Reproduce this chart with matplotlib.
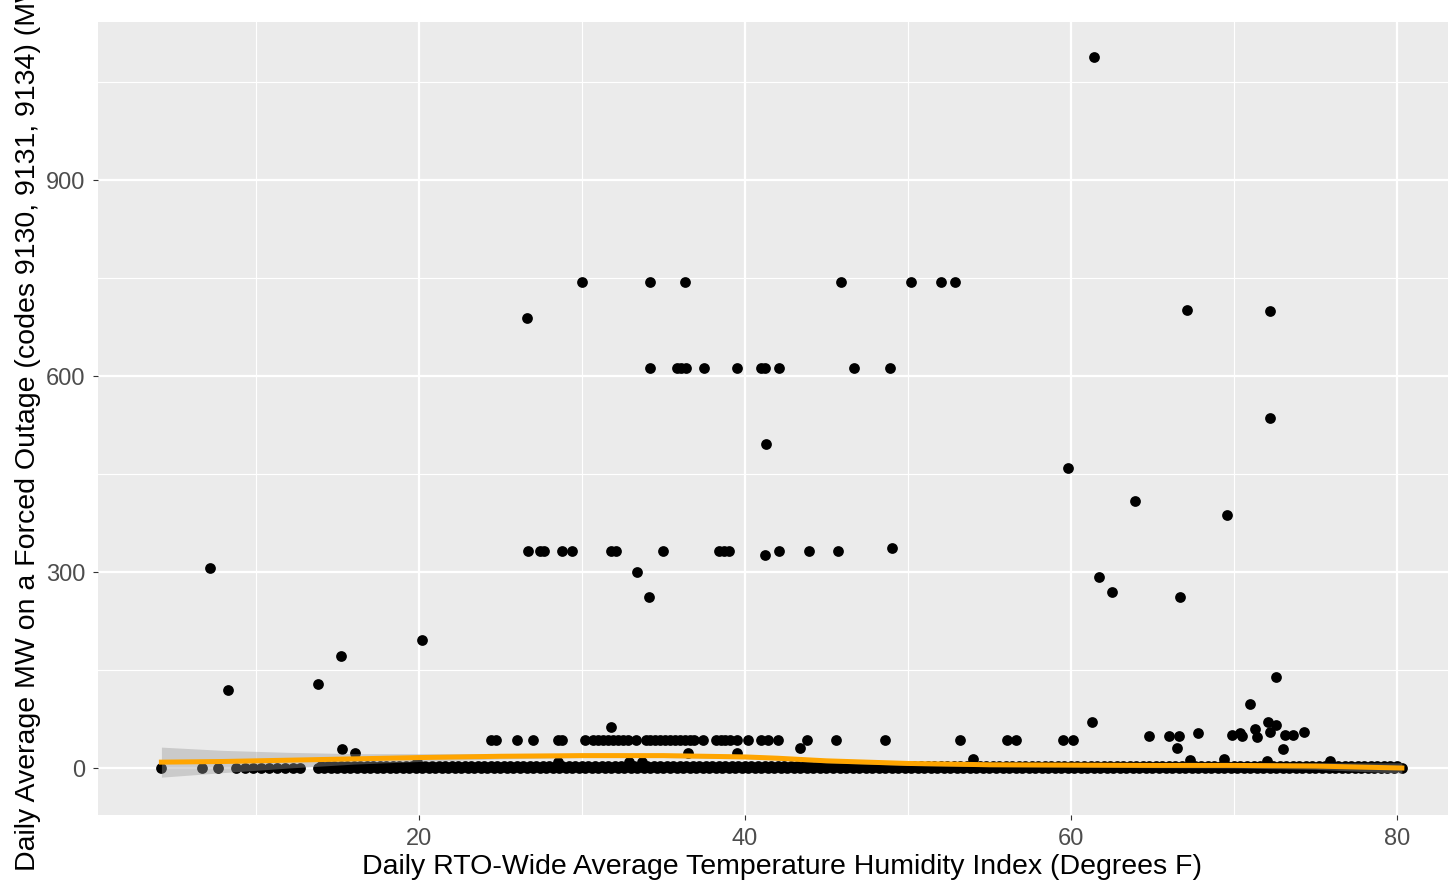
import matplotlib
matplotlib.use("Agg")
import matplotlib.pyplot as plt

# points sitting on zero MW -- dense band along the bottom
zero_thi = [4.2, 6.7, 7.7, 8.8, 9.3, 9.8, 10.3, 10.8, 11.3, 11.8, 12.3, 12.7,
            13.8, 14.2, 14.6, 15.0, 15.4, 15.8, 16.2, 16.6, 17.0, 17.4, 17.8, 18.2,
            18.6, 19.0, 19.4, 19.8, 20.2, 20.6, 21.0, 21.4, 21.8, 22.2, 22.6, 23.0,
            23.4, 23.8, 24.2, 24.6, 25.0, 25.4, 25.8, 26.2, 26.6, 27.0, 27.4, 27.8,
            28.2, 28.6, 29.0, 29.4, 29.8, 30.2, 30.6, 31.0, 31.4, 31.8, 32.2, 32.6,
            33.0, 33.4, 33.8, 34.2, 34.6, 35.0, 35.4, 35.8, 36.2, 36.6, 37.0, 37.4,
            37.8, 38.2, 38.6, 39.0, 39.4, 39.8, 40.2, 40.6, 41.0, 41.4, 41.8, 42.2,
            42.6, 43.0, 43.4, 43.8, 44.2, 44.6, 45.0, 45.4, 45.8, 46.2, 46.6, 47.0,
            47.4, 47.8, 48.2, 48.6, 49.0, 49.4, 49.8, 50.2, 50.6, 51.0, 51.4, 51.8,
            52.2, 52.6, 53.0, 53.4, 53.8, 54.2, 54.6, 55.0, 55.4, 55.8, 56.2, 56.6,
            57.0, 57.4, 57.8, 58.2, 58.6, 59.0, 59.4, 59.8, 60.2, 60.6, 61.0, 61.4,
            61.8, 62.2, 62.6, 63.0, 63.4, 63.8, 64.2, 64.6, 65.0, 65.4, 65.8, 66.2,
            66.6, 67.0, 67.4, 67.8, 68.2, 68.6, 69.0, 69.4, 69.8, 70.2, 70.6, 71.0,
            71.4, 71.8, 72.2, 72.6, 73.0, 73.4, 73.8, 74.2, 74.6, 75.0, 75.4, 75.8,
            76.2, 76.6, 77.0, 77.4, 77.8, 78.2, 78.6, 79.0, 79.4, 79.8, 80.3]

# tiny outages (a few MW) packed in between the zero points
trace_thi = [14.0, 14.4, 14.8, 15.2, 15.6, 16.0, 16.4, 16.8, 17.2, 17.6, 18.0, 18.4,
             18.8, 19.2, 19.6, 20.0, 20.4, 20.8, 21.2, 21.6, 22.0, 22.4, 22.8, 23.2,
             23.6, 24.0, 24.4, 24.8, 25.2, 25.6, 26.0, 26.4, 26.8, 27.2, 27.6, 28.0,
             28.4, 28.8, 29.2, 29.6, 30.0, 30.4, 30.8, 31.2, 31.6, 32.0, 32.4, 32.8,
             33.2, 33.6, 34.0, 34.4, 34.8, 35.2, 35.6, 36.0, 36.4, 36.8, 37.2, 37.6,
             38.0, 38.4, 38.8, 39.2, 39.6, 40.0, 40.4, 40.8, 41.2, 41.6, 42.0, 42.4,
             42.8, 43.2, 43.6, 44.0, 44.4, 44.8, 45.2, 45.6, 46.0, 46.4, 46.8, 47.2,
             47.6, 48.0, 48.4, 48.8, 49.2, 49.6, 50.0, 50.4, 50.8, 51.2, 51.6, 52.0,
             52.4, 52.8, 53.2, 53.6, 54.0, 54.4, 54.8, 55.2, 55.6, 56.0, 56.4, 56.8,
             57.2, 57.6, 58.0, 58.4, 58.8, 59.2, 59.6, 60.0, 60.4, 60.8, 61.2, 61.6,
             62.0, 62.4, 62.8, 63.2, 63.6, 64.0, 64.4, 64.8, 65.2, 65.6, 66.0, 66.4,
             66.8, 67.2, 67.6, 68.0, 68.4, 68.8, 69.2, 69.6, 70.0, 70.4, 70.8, 71.2,
             71.6, 72.0, 72.4, 72.8, 73.2, 73.6, 74.0, 74.4, 74.8, 75.2, 75.6, 76.0,
             76.4, 76.8, 77.2, 77.6, 78.0, 78.4, 78.8, 79.2, 79.6, 80.0]

# the ~43 MW row between 24 and 60 F
row43_thi = [24.4, 24.7, 26.0, 27.0, 28.5, 28.8, 30.2, 30.7, 31.0, 31.3, 31.6, 31.9,
             32.2, 32.5, 32.8, 33.3, 33.9, 34.2, 34.5, 34.8, 35.1, 35.4, 35.7, 36.0,
             36.3, 36.6, 36.9, 37.4, 38.2, 38.5, 38.8, 39.1, 39.5, 40.2, 41.0, 41.4,
             42.0, 43.8, 45.6, 48.6, 53.2, 56.1, 56.6, 59.5, 60.1]

# everything else
other_thi = [61.4,
             30.0, 34.2, 36.3, 45.9, 50.2, 52.0, 52.9,
             67.1, 72.2, 26.6,
             34.2, 35.8, 36.1, 36.4, 37.5, 39.5, 41.0, 41.2, 42.1, 46.7, 48.9,
             72.2, 41.3, 59.8, 63.9, 69.6,
             26.7, 27.4, 27.7, 28.8, 29.4, 31.8, 32.1, 35.0, 38.4, 38.7, 39.0,
             42.1, 43.9, 45.7, 49.0, 41.2,
             33.4, 61.7, 62.5, 34.1, 66.7,
             7.2, 20.2, 15.2, 13.8, 8.3,
             72.6, 71.0, 31.8, 61.3,
             15.3, 16.1, 19.9, 28.5, 32.9, 33.7, 36.5, 39.5, 54.0, 43.4,
             64.8, 66.0, 66.6, 66.5, 67.8, 69.9, 70.4, 70.5, 71.3, 71.4, 72.1,
             72.6, 72.2, 73.0, 73.1, 73.6, 74.3,
             67.3, 69.4, 72.0, 75.9]
other_mw = [1088,
            744, 744, 744, 744, 744, 744, 744,
            701, 700, 689,
            612, 612, 612, 612, 612, 612, 612, 612, 612, 612, 612,
            536, 496, 459, 409, 387,
            332, 332, 332, 332, 332, 332, 332, 332, 332, 332, 332,
            332, 332, 332, 337, 326,
            300, 292, 269, 262, 262,
            306, 196, 171, 129, 119,
            139, 98, 63, 70,
            29, 23, 9, 9, 9, 9, 23, 23, 14, 31,
            49, 49, 49, 31, 54, 50, 54, 49, 60, 47, 70,
            66, 55, 29, 50, 50, 55,
            12, 14, 11, 11]

# loess fit + confidence band
smooth_thi = [4.2, 8, 12, 16, 20, 25, 30, 35, 40, 42, 45, 50, 55, 60, 65, 70, 75, 80.3]
smooth_mw = [9, 10, 12, 14, 16, 18, 19, 19, 17, 15, 11, 7, 5, 4.5, 4, 4, 3, 0]
smooth_lo = [-14, -7, 0, 6, 10, 14, 16, 16, 14, 12, 8, 4, 2, 1.5, 0.5, 0, -2, -8]
smooth_hi = [32, 27, 24, 22, 22, 22, 22, 22, 20, 18, 14, 10, 8, 7.5, 7.5, 8, 8, 8]

plt.rcParams["font.family"] = ["Liberation Sans", "DejaVu Sans"]

fig = plt.figure(figsize=(14.48, 8.83), dpi=100)
ax = fig.add_axes([98 / 1448, 1 - 815 / 883, 1 - 98 / 1448, (815 - 22) / 883])
ax.set_facecolor("#EBEBEB")
for s in ax.spines.values():
    s.set_visible(False)

ax.set_xlim(0.31, 83.13)
ax.set_ylim(-71.9, 1141.9)
ax.set_xticks([20, 40, 60, 80])
ax.set_xticks([10, 30, 50, 70], minor=True)
ax.set_yticks([0, 300, 600, 900])
ax.set_yticks([150, 450, 750, 1050], minor=True)
ax.grid(which="major", color="white", lw=1.6)
ax.grid(which="minor", color="white", lw=0.8)
ax.set_axisbelow(True)
ax.tick_params(which="major", length=3.3, width=0.8, color="#333333",
               labelcolor="#4d4d4d", labelsize=17, pad=6)
ax.tick_params(which="minor", length=0)

dot = dict(s=60, c="black", lw=0, zorder=2)
ax.scatter(zero_thi, [0] * len(zero_thi), **dot)
ax.scatter(trace_thi, [3] * len(trace_thi), **dot)
ax.scatter(row43_thi, [43] * len(row43_thi), **dot)
ax.scatter(other_thi, other_mw, **dot)

ax.fill_between(smooth_thi, smooth_lo, smooth_hi, color="#999999", alpha=0.4, lw=0, zorder=3)
ax.plot(smooth_thi, smooth_mw, color="#FFA500", lw=3.6, zorder=4)

fig.text(782 / 1448, 1 - 867 / 883, "Daily RTO-Wide Average Temperature Humidity Index (Degrees F)",
         ha="center", va="center", fontsize=20.5)
fig.text(28 / 1448, 1 - 418 / 883,
         "Daily Average MW on a Forced Outage (codes 9130, 9131, 9134) (MW)",
         ha="center", va="center", rotation=90, fontsize=20.5)

fig.savefig("out.png", dpi=100)
